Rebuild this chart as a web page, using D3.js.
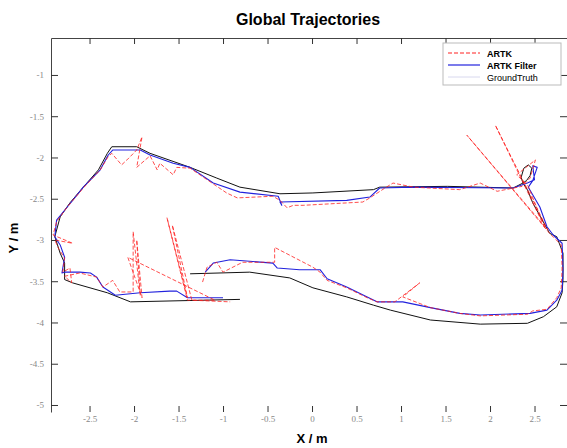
<!DOCTYPE html>
<html>
<head>
<meta charset="utf-8">
<script src="https://cdn.jsdelivr.net/npm/d3@7"></script>
<style>
  body { margin: 0; background: #fff; }
  svg { display: block; }
  .tick text { font-family: "Liberation Serif", serif; font-size: 9px; fill: #888; }
  .tick line { stroke: #333; }
</style>
</head>
<body>
<svg></svg>
<script>
const width = 567;
const height = 448;

// tick values and labels
const xTicks = [-2.5, -2, -1.5, -1, -0.5, 0, 0.5, 1, 1.5, 2, 2.5];
const xTickLabels = ['-2.5', '-2', '-1.5', '-1', '-0.5', '0', '0.5', '1', '1.5', '2', '2.5'];
const yTicks = [-1, -1.5, -2, -2.5, -3, -3.5, -4, -4.5, -5];
const yTickLabels = ['-1', '-1.5', '-2', '-2.5', '-3', '-3.5', '-4', '-4.5', '-5'];

const seriesNames = ['ARTK', 'ARTK Filter', 'GroundTruth'];

// ground truth trajectory [x, y] in metres
const groundTruth = [
  [-1.37, -3.41], [-0.70, -3.39], [-0.25, -3.46], [0.01, -3.58], [0.39, -3.69], [0.69, -3.79],
  [0.88, -3.85], [1.33, -3.97], [1.89, -4.02], [2.42, -4.01], [2.60, -3.93], [2.75, -3.81],
  [2.81, -3.64], [2.82, -3.48], [2.82, -3.16], [2.75, -2.96], [2.67, -2.92], [2.48, -2.55],
  [2.42, -2.39], [2.37, -2.31], [2.35, -2.24], [2.38, -2.13], [2.43, -2.09], [2.47, -2.13],
  [2.45, -2.22], [2.41, -2.28], [2.37, -2.31], [2.26, -2.37], [1.52, -2.35], [0.76, -2.36],
  [0.69, -2.39], [0.01, -2.43], [-0.36, -2.44], [-0.81, -2.36], [-1.07, -2.25], [-1.37, -2.12],
  [-1.82, -1.95], [-1.97, -1.87], [-2.25, -1.87], [-2.30, -1.95], [-2.40, -2.15], [-2.57, -2.36],
  [-2.72, -2.55], [-2.83, -2.72], [-2.89, -2.96], [-2.83, -3.16], [-2.78, -3.28], [-2.78, -3.48],
  [-2.69, -3.52], [-2.30, -3.64], [-2.04, -3.75], [-0.81, -3.72]
];

// filtered ARTK trajectory
const artkFilter = [
  [-1.20, -3.39], [-1.11, -3.28], [-0.92, -3.24], [-0.44, -3.28], [-0.39, -3.34], [-0.14, -3.36],
  [0.09, -3.36], [0.17, -3.47], [0.39, -3.57], [0.62, -3.69], [0.73, -3.75], [1.02, -3.75],
  [1.33, -3.82], [1.66, -3.89], [1.89, -3.91], [2.45, -3.89], [2.64, -3.85], [2.75, -3.73],
  [2.81, -3.61], [2.82, -3.36], [2.81, -3.04], [2.71, -2.94], [2.64, -2.84], [2.56, -2.60],
  [2.43, -2.36], [2.48, -2.28], [2.53, -2.12], [2.48, -2.10], [2.50, -2.27], [2.42, -2.31],
  [2.26, -2.37], [1.14, -2.36], [0.76, -2.37], [0.65, -2.48], [0.39, -2.52], [-0.36, -2.54],
  [-0.34, -2.58], [-0.38, -2.47], [-0.81, -2.42], [-1.11, -2.31], [-1.37, -2.12], [-1.56, -2.07],
  [-1.82, -1.97], [-1.93, -1.91], [-2.24, -1.91], [-2.29, -1.97], [-2.38, -2.15], [-2.57, -2.36],
  [-2.66, -2.48], [-2.75, -2.60], [-2.87, -2.76], [-2.89, -2.96], [-2.83, -3.06], [-2.78, -3.21],
  [-2.81, -3.40], [-2.78, -3.39], [-2.61, -3.39], [-2.49, -3.40], [-2.42, -3.45], [-2.35, -3.57],
  [-2.21, -3.67], [-1.93, -3.64], [-1.60, -3.62], [-1.52, -3.62], [-1.40, -3.70], [-1.00, -3.70]
];

// raw ARTK trajectory
const artk = [
  [-1.23, -3.51], [-1.18, -3.33], [-1.07, -3.27], [-1.00, -3.39], [-0.78, -3.27], [-0.42, -3.27],
  [-0.42, -3.09], [0.01, -3.33], [0.09, -3.39], [0.17, -3.49], [0.39, -3.58], [0.62, -3.70],
  [0.73, -3.75], [0.93, -3.75], [1.21, -3.52], [1.02, -3.69], [1.33, -3.82], [1.66, -3.89],
  [1.89, -3.92], [2.42, -3.90], [2.48, -3.86], [2.64, -3.84], [2.75, -3.70], [2.80, -3.58],
  [2.81, -3.34], [2.80, -3.06], [2.67, -2.92], [1.74, -1.73], [2.65, -2.88], [2.06, -1.61],
  [2.62, -2.86], [2.56, -2.70], [2.47, -2.46], [2.43, -2.35], [2.30, -2.21], [2.51, -2.03],
  [2.45, -2.25], [2.36, -2.35], [2.08, -2.41], [1.89, -2.31], [1.66, -2.39], [1.14, -2.36],
  [0.91, -2.31], [0.82, -2.37], [0.65, -2.49], [0.57, -2.54], [-0.10, -2.58], [-0.21, -2.58],
  [-0.28, -2.61], [-0.36, -2.52], [-0.44, -2.47], [-0.84, -2.49], [-0.96, -2.43], [-1.11, -2.32],
  [-1.37, -2.13], [-1.52, -2.12], [-1.56, -2.21], [-1.71, -2.07], [-1.74, -2.15], [-1.82, -1.98],
  [-1.97, -2.12], [-1.91, -1.75], [-1.97, -1.91], [-2.08, -2.03], [-2.14, -2.09], [-2.25, -1.95],
  [-2.29, -1.99], [-2.38, -2.15], [-2.57, -2.37], [-2.75, -2.60], [-2.87, -2.78], [-2.91, -2.94],
  [-2.69, -3.04], [-2.89, -3.00], [-2.85, -3.10], [-2.78, -3.22], [-2.80, -3.39], [-2.72, -3.34],
  [-2.70, -3.52], [-2.78, -3.44], [-2.61, -3.40], [-2.42, -3.45], [-2.35, -3.57], [-2.24, -3.49],
  [-2.16, -3.63], [-2.01, -3.63], [-2.01, -2.90], [-1.93, -3.67], [-1.97, -3.00], [-1.91, -3.70],
  [-2.07, -3.21], [-1.09, -3.73], [-1.40, -3.73], [-1.63, -2.73], [-1.40, -3.70], [-1.57, -2.82],
  [-1.35, -3.73], [-0.92, -3.75]
];

const plot = { left: 51, right: 567, top: 38, bottom: 412 };

const x = d3.scaleLinear().domain([-2.933, 2.865]).range([plot.left, plot.right]);
const y = d3.scaleLinear().domain([-5.085, -0.552]).range([plot.bottom, plot.top]);

const svg = d3.select('svg')
    .attr('width', width)
    .attr('height', height);

svg.append('rect').attr('width', width).attr('height', height).attr('fill', '#fff');

// title
svg.append('text')
    .attr('x', 308)
    .attr('y', 25)
    .attr('text-anchor', 'middle')
    .style('font-family', 'Liberation Sans, Arial, sans-serif')
    .style('font-weight', 'bold')
    .style('font-size', '16px')
    .text('Global Trajectories');

// axes
const leftAxis = svg.append('g')
    .attr('transform', 'translate(' + plot.left + ',0)')
    .call(d3.axisLeft(y).tickValues(yTicks).tickSize(-7).tickSizeOuter(0).tickPadding(7)
        .tickFormat((d, i) => yTickLabels[i]));
leftAxis.select('.domain').attr('stroke', '#444');

const topAxis = svg.append('g')
    .attr('transform', 'translate(0,' + plot.top + ')')
    .call(d3.axisTop(x).tickValues(xTicks).tickSize(-6).tickSizeOuter(0).tickFormat(''));
topAxis.select('.domain').attr('stroke', '#444');

svg.append('g')
    .attr('transform', 'translate(' + plot.right + ',0)')
    .call(d3.axisRight(y).tickValues(yTicks).tickSize(-7).tickSizeOuter(0).tickFormat(''))
    .select('.domain').remove();

const bottomAxis = svg.append('g')
    .attr('transform', 'translate(0,' + plot.bottom + ')')
    .call(d3.axisBottom(x).tickValues(xTicks).tickSize(-6).tickSizeOuter(0).tickPadding(4)
        .tickFormat((d, i) => xTickLabels[i]));
bottomAxis.select('.domain').remove();

// axis labels
svg.append('text')
    .attr('x', 312)
    .attr('y', 443)
    .attr('text-anchor', 'middle')
    .style('font-family', 'Liberation Sans, Arial, sans-serif')
    .style('font-weight', 'bold')
    .style('font-size', '13px')
    .text('X / m');

svg.append('text')
    .attr('transform', 'translate(18,238) rotate(-90)')
    .attr('text-anchor', 'middle')
    .style('font-family', 'Liberation Sans, Arial, sans-serif')
    .style('font-weight', 'bold')
    .style('font-size', '13px')
    .text('Y / m');

const line = d3.line().x(d => x(d[0])).y(d => y(d[1]));

svg.append('path')
    .datum(groundTruth)
    .attr('d', line)
    .attr('fill', 'none')
    .attr('stroke', '#111')
    .attr('stroke-width', 1)
    .attr('stroke-linejoin', 'round');

svg.append('path')
    .datum(artkFilter)
    .attr('d', line)
    .attr('fill', 'none')
    .attr('stroke', '#2222dd')
    .attr('stroke-width', 1.1)
    .attr('stroke-linejoin', 'round');

svg.append('path')
    .datum(artk)
    .attr('d', line)
    .attr('fill', 'none')
    .attr('stroke', '#ff2020')
    .attr('stroke-width', 0.8)
    .attr('stroke-dasharray', '4,2');

// legend
const legend = svg.append('g').attr('transform', 'translate(443,43)');
legend.append('rect')
    .attr('width', 118)
    .attr('height', 42)
    .attr('fill', '#fff')
    .attr('stroke', '#bbb')
    .attr('stroke-width', 1);

const legendStyles = [
  { stroke: '#ff2020', dash: '4,2', weight: 'bold', width: 1 },
  { stroke: '#2222dd', dash: null, weight: 'bold', width: 1.2 },
  { stroke: '#d8d8ee', dash: null, weight: 'normal', width: 1 }
];

seriesNames.forEach((name, i) => {
  const ly = 10 + i * 12;
  legend.append('line')
      .attr('x1', 5).attr('x2', 37)
      .attr('y1', ly).attr('y2', ly)
      .attr('stroke', legendStyles[i].stroke)
      .attr('stroke-width', legendStyles[i].width)
      .attr('stroke-dasharray', legendStyles[i].dash);
  legend.append('text')
      .attr('x', 44)
      .attr('y', ly + 3.5)
      .style('font-family', 'Liberation Sans, Arial, sans-serif')
      .style('font-weight', legendStyles[i].weight)
      .style('font-size', '9px')
      .text(name);
});
</script>
</body>
</html>
